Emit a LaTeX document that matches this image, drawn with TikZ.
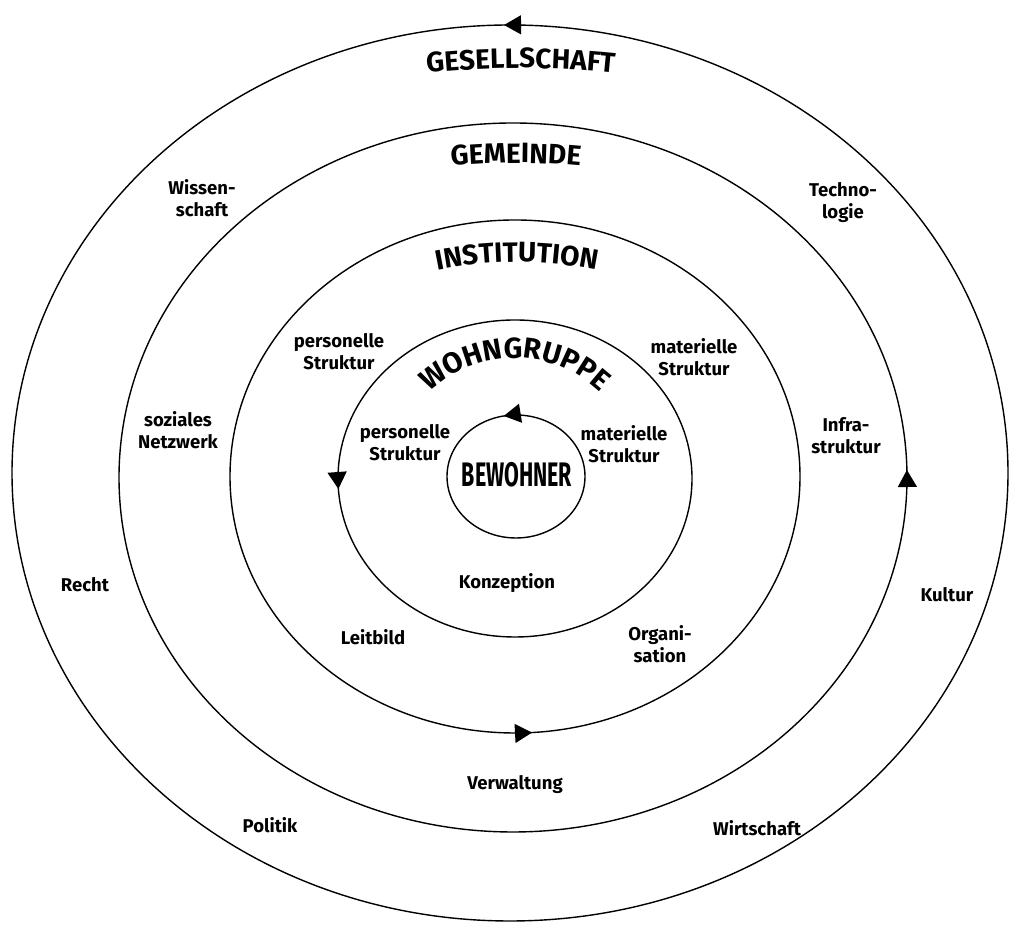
\documentclass[tikz,border=0pt]{standalone}
\usepackage{graphicx}
\usepackage{fontspec}
\setmainfont{Fira Sans}
\usetikzlibrary{arrows.meta,decorations.markings,decorations.text}

\newcommand\ringtitle{\bfseries\fontsize{28}{30}\selectfont}
\newcommand\grouptitle{\bfseries\fontsize{29}{31}\selectfont}

\tikzset{
  ring/.style={line width=1.4pt},
  ringarrow/.style={postaction={decorate},
    decoration={markings, mark=at position #1 with {\arrow{Triangle[length=17pt,width=19pt]}}}},
  lbl/.style={font=\bfseries\fontsize{18.5}{22}\selectfont, align=center, inner sep=0pt},
  bowtext/.style={decorate, decoration={text along path, text align=center, text={|\ringtitle|#1}}},
  bowtextbig/.style={decorate, decoration={text along path, text align=center, text={|\grouptitle|#1}}}
}

\begin{document}
\begin{tikzpicture}[x=1pt,y=1pt]
  \useasboundingbox (0,0) rectangle (1010,925);
  \fill[white] (0,0) rectangle (1010,925);

  % concentric rings, every one running counter-clockwise
  \draw[ring, ringarrow=0.252] (510,452)   ellipse [x radius=498pt, y radius=448pt];
  \draw[ring, ringarrow=7.5pt] (513,447.5) ellipse [x radius=394pt, y radius=354.5pt];
  \draw[ring, ringarrow=0.76]  (515,448.5) ellipse [x radius=285pt, y radius=256.5pt];
  \draw[ring, ringarrow=0.51]  (515,446.5) ellipse [x radius=177pt, y radius=158.5pt];
  \draw[ring, ringarrow=0.28]  (516,448.5) ellipse [x radius=69pt,  y radius=61.5pt];

  % ring titles bent along arcs
  \path[bowtext=GESELLSCHAFT] (521,-43) ++(100:900pt) arc[start angle=100, end angle=80, radius=900pt];
  \path[bowtext=GEMEINDE]     (516,62)  ++(100:700pt) arc[start angle=100, end angle=80, radius=700pt];
  \path[bowtext=INSTITUTION]  (517,263) ++(110:400pt) arc[start angle=110, end angle=70, radius=400pt];
  \path[bowtextbig=WOHNGRUPPE] (515,443) ++(170:124pt) arc[start angle=170, end angle=10, radius=124pt];

  % centre
  \node[inner sep=0pt] (bewohner) at (517,450)
    {\scalebox{0.63}[1]{\bfseries\fontsize{34}{36}\selectfont BEWOHNER}};

  % society ring
  \node[lbl] (wissenschaft) at (202,727) {Wissen-\\schaft};
  \node[lbl] (technologie)  at (843,722) {Techno-\\logie};
  \node[lbl] (recht)        at (85,340)  {Recht};
  \node[lbl] (kultur)       at (947,330) {Kultur};
  \node[lbl] (politik)      at (270,100) {Politik};
  \node[lbl] (wirtschaft)   at (757,97)  {Wirtschaft};

  % community ring
  \node[lbl] (netzwerk)     at (178,495) {soziales\\Netzwerk};
  \node[lbl] (infra)        at (846,489) {Infra-\\struktur};
  \node[lbl] (verwaltung)   at (515,140) {Verwaltung};

  % institution ring
  \node[lbl] (persA)        at (339,573) {personelle\\Struktur};
  \node[lbl] (matA)         at (694,568) {materielle\\Struktur};
  \node[lbl] (leitbild)     at (373,288) {Leitbild};
  \node[lbl] (organisation) at (660,281) {Organi-\\sation};

  % living group ring
  \node[lbl] (persB)        at (405,482) {personelle\\Struktur};
  \node[lbl] (matB)         at (624,481) {materielle\\Struktur};
  \node[lbl] (konzeption)   at (507,342) {Konzeption};
\end{tikzpicture}
\end{document}
